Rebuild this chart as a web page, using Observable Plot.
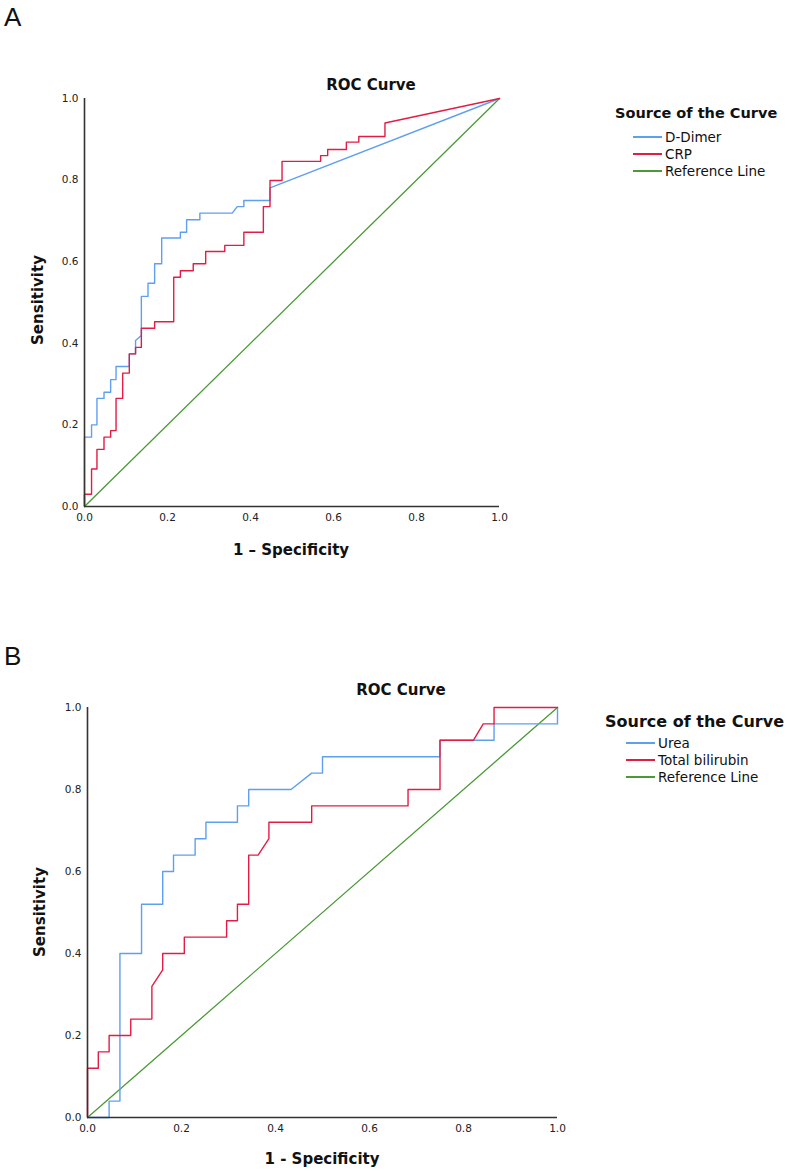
<!DOCTYPE html>
<html>
<head>
<meta charset="utf-8">
<script src="https://cdn.jsdelivr.net/npm/d3@7"></script>
<script src="https://cdn.jsdelivr.net/npm/@observablehq/plot@0.6"></script>
<style>
  html, body { margin: 0; padding: 0; background: #fff; }
  #root { position: relative; width: 787px; height: 1171px; font-family: "DejaVu Sans", sans-serif; color: #111; }
  .abs { position: absolute; white-space: nowrap; }
  .c { transform: translate(-50%, -50%); }
  .bold { font-weight: bold; }
  .leg { position: absolute; display: flex; align-items: center; font-size: 13.5px; white-space: nowrap; }
  .leg span.sw { display: inline-block; width: 29px; height: 2px; margin-right: 3px; }
  svg { position: absolute; overflow: visible; }
</style>
</head>
<body>
<div id="root"></div>
<script>
// ---------- Data ----------
const tickValues = [0, 0.2, 0.4, 0.6, 0.8, 1.0];
const tickLabels = ["0.0", "0.2", "0.4", "0.6", "0.8", "1.0"];

// Panel A: D-Dimer
const ddimerX = [0, 0, 0.017, 0.017, 0.030, 0.030, 0.047, 0.047, 0.063, 0.063, 0.076, 0.076, 0.108, 0.108, 0.123, 0.123, 0.137, 0.137, 0.153, 0.153, 0.169, 0.169, 0.186, 0.186, 0.231, 0.231, 0.246, 0.246, 0.278, 0.278, 0.356, 0.368, 0.384, 0.384, 0.447, 0.447, 1];
const ddimerY = [0, 0.17, 0.17, 0.20, 0.20, 0.265, 0.265, 0.28, 0.28, 0.311, 0.311, 0.343, 0.343, 0.374, 0.374, 0.407, 0.419, 0.515, 0.515, 0.547, 0.547, 0.595, 0.595, 0.658, 0.658, 0.672, 0.672, 0.703, 0.703, 0.719, 0.719, 0.735, 0.735, 0.75, 0.75, 0.781, 1];
// Panel A: CRP
const crpX = [0, 0, 0.017, 0.017, 0.030, 0.030, 0.047, 0.047, 0.063, 0.063, 0.076, 0.076, 0.092, 0.092, 0.108, 0.108, 0.123, 0.123, 0.137, 0.137, 0.169, 0.169, 0.215, 0.215, 0.231, 0.231, 0.262, 0.262, 0.292, 0.292, 0.338, 0.338, 0.384, 0.384, 0.431, 0.431, 0.447, 0.447, 0.476, 0.476, 0.569, 0.569, 0.586, 0.586, 0.631, 0.631, 0.661, 0.661, 0.724, 0.724, 1];
const crpY = [0, 0.03, 0.03, 0.092, 0.092, 0.14, 0.14, 0.17, 0.17, 0.186, 0.186, 0.265, 0.265, 0.327, 0.327, 0.374, 0.374, 0.39, 0.39, 0.437, 0.437, 0.453, 0.453, 0.562, 0.562, 0.578, 0.578, 0.595, 0.595, 0.625, 0.625, 0.640, 0.640, 0.672, 0.672, 0.735, 0.735, 0.799, 0.799, 0.846, 0.846, 0.86, 0.86, 0.875, 0.875, 0.893, 0.893, 0.907, 0.907, 0.94, 1];

// Panel B: Urea
const ureaX = [0, 0.046, 0.046, 0.069, 0.069, 0.115, 0.115, 0.16, 0.16, 0.183, 0.183, 0.229, 0.229, 0.252, 0.252, 0.319, 0.319, 0.343, 0.343, 0.433, 0.477, 0.5, 0.5, 0.75, 0.75, 0.865, 0.865, 1, 1];
const ureaY = [0, 0, 0.04, 0.04, 0.40, 0.40, 0.52, 0.52, 0.60, 0.60, 0.64, 0.64, 0.68, 0.68, 0.72, 0.72, 0.76, 0.76, 0.80, 0.80, 0.84, 0.84, 0.88, 0.88, 0.92, 0.92, 0.96, 0.96, 1];
// Panel B: Total bilirubin
const biliX = [0, 0, 0.023, 0.023, 0.046, 0.046, 0.092, 0.092, 0.137, 0.137, 0.16, 0.16, 0.206, 0.206, 0.296, 0.296, 0.319, 0.319, 0.343, 0.343, 0.363, 0.386, 0.386, 0.477, 0.477, 0.682, 0.682, 0.75, 0.75, 0.821, 0.842, 0.865, 0.865, 1];
const biliY = [0, 0.12, 0.12, 0.16, 0.16, 0.20, 0.20, 0.24, 0.24, 0.32, 0.36, 0.40, 0.40, 0.44, 0.44, 0.48, 0.48, 0.52, 0.52, 0.64, 0.64, 0.68, 0.72, 0.72, 0.76, 0.76, 0.80, 0.80, 0.92, 0.92, 0.96, 0.96, 1.0, 1];

// Reference line
const refX = [0, 1];
const refY = [0, 1];

const BLUE = "#5f9ff0", RED = "#e21d45", GREEN = "#4a9a35", AXIS = "#333";

// ---------- Helpers ----------
const pts = (xs, ys) => xs.map((x, i) => ({x, y: ys[i]}));
const root = document.getElementById("root");

function addDiv(html, cls, style) {
  const d = document.createElement("div");
  d.className = cls;
  d.innerHTML = html;
  Object.assign(d.style, style);
  root.appendChild(d);
  return d;
}

function panel({top, left, width, height, mL, mR, mT, mB, s1, s2}) {
  const fmt = d => tickLabels[tickValues.indexOf(d)] ?? d3.format(".1f")(d);
  const svg = Plot.plot({
    width, height,
    marginLeft: mL, marginRight: mR, marginTop: mT, marginBottom: mB,
    style: {fontFamily: "DejaVu Sans, sans-serif", fontSize: "10.5px", color: "#222", background: "transparent"},
    x: {domain: [0, 1]},
    y: {domain: [0, 1]},
    marks: [
      Plot.axisX({ticks: tickValues, tickFormat: fmt, tickSize: 0, tickPadding: 7, label: null}),
      Plot.axisY({ticks: tickValues, tickFormat: fmt, tickSize: 0, tickPadding: 6, label: null}),
      Plot.line(pts(refX, refY), {x: "x", y: "y", stroke: GREEN, strokeWidth: 1.3}),
      Plot.line(pts(s1.x, s1.y), {x: "x", y: "y", stroke: BLUE, strokeWidth: 1.4}),
      Plot.line(pts(s2.x, s2.y), {x: "x", y: "y", stroke: RED, strokeWidth: 1.4}),
      Plot.ruleX([0], {stroke: AXIS, strokeWidth: 1.6}),
      Plot.ruleY([0], {stroke: AXIS, strokeWidth: 1.6})
    ]
  });
  svg.style.left = left + "px";
  svg.style.top = top + "px";
  root.appendChild(svg);
}

function legend({x, y, titleSize, rows, names, lineX}) {
  addDiv("Source of the Curve", "abs bold", {left: x + "px", top: y + "px", fontSize: titleSize + "px", transform: "translateY(-50%)"});
  const colors = [BLUE, RED, GREEN];
  names.forEach((n, i) => {
    addDiv(`<span class="sw" style="background:${colors[i]}"></span>${n}`, "leg",
      {left: lineX + "px", top: rows[i] + "px", transform: "translateY(-50%)"});
  });
}

// ---------- Panel A ----------
addDiv("A", "abs", {left: "4px", top: "2px", fontSize: "26px", fontFamily: "Liberation Sans, sans-serif"});
panel({top: 0, left: 0, width: 520, height: 570, mL: 84, mR: 21, mT: 98, mB: 64,
  s1: {x: ddimerX, y: ddimerY}, s2: {x: crpX, y: crpY}});
addDiv("ROC Curve", "abs c bold", {left: "371px", top: "85px", fontSize: "15px"});
addDiv("1 – Specificity", "abs c bold", {left: "291px", top: "550px", fontSize: "15px"});
addDiv("Sensitivity", "abs c bold", {left: "38px", top: "300px", fontSize: "15px", transform: "translate(-50%,-50%) rotate(-90deg)"});
legend({x: 615, y: 113, titleSize: 14.5, rows: [137, 154, 171], names: ["D-Dimer", "CRP", "Reference Line"], lineX: 633});

// ---------- Panel B ----------
addDiv("B", "abs", {left: "4px", top: "641px", fontSize: "26px", fontFamily: "Liberation Sans, sans-serif"});
panel({top: 600, left: 0, width: 580, height: 571, mL: 87, mR: 23, mT: 107, mB: 54,
  s1: {x: ureaX, y: ureaY}, s2: {x: biliX, y: biliY}});
addDiv("ROC Curve", "abs c bold", {left: "401px", top: "690px", fontSize: "15px"});
addDiv("1 - Specificity", "abs c bold", {left: "322px", top: "1159px", fontSize: "15px"});
addDiv("Sensitivity", "abs c bold", {left: "40px", top: "912px", fontSize: "15px", transform: "translate(-50%,-50%) rotate(-90deg)"});
legend({x: 605, y: 721, titleSize: 16, rows: [743, 760, 777], names: ["Urea", "Total bilirubin", "Reference Line"], lineX: 626});
</script>
</body>
</html>
